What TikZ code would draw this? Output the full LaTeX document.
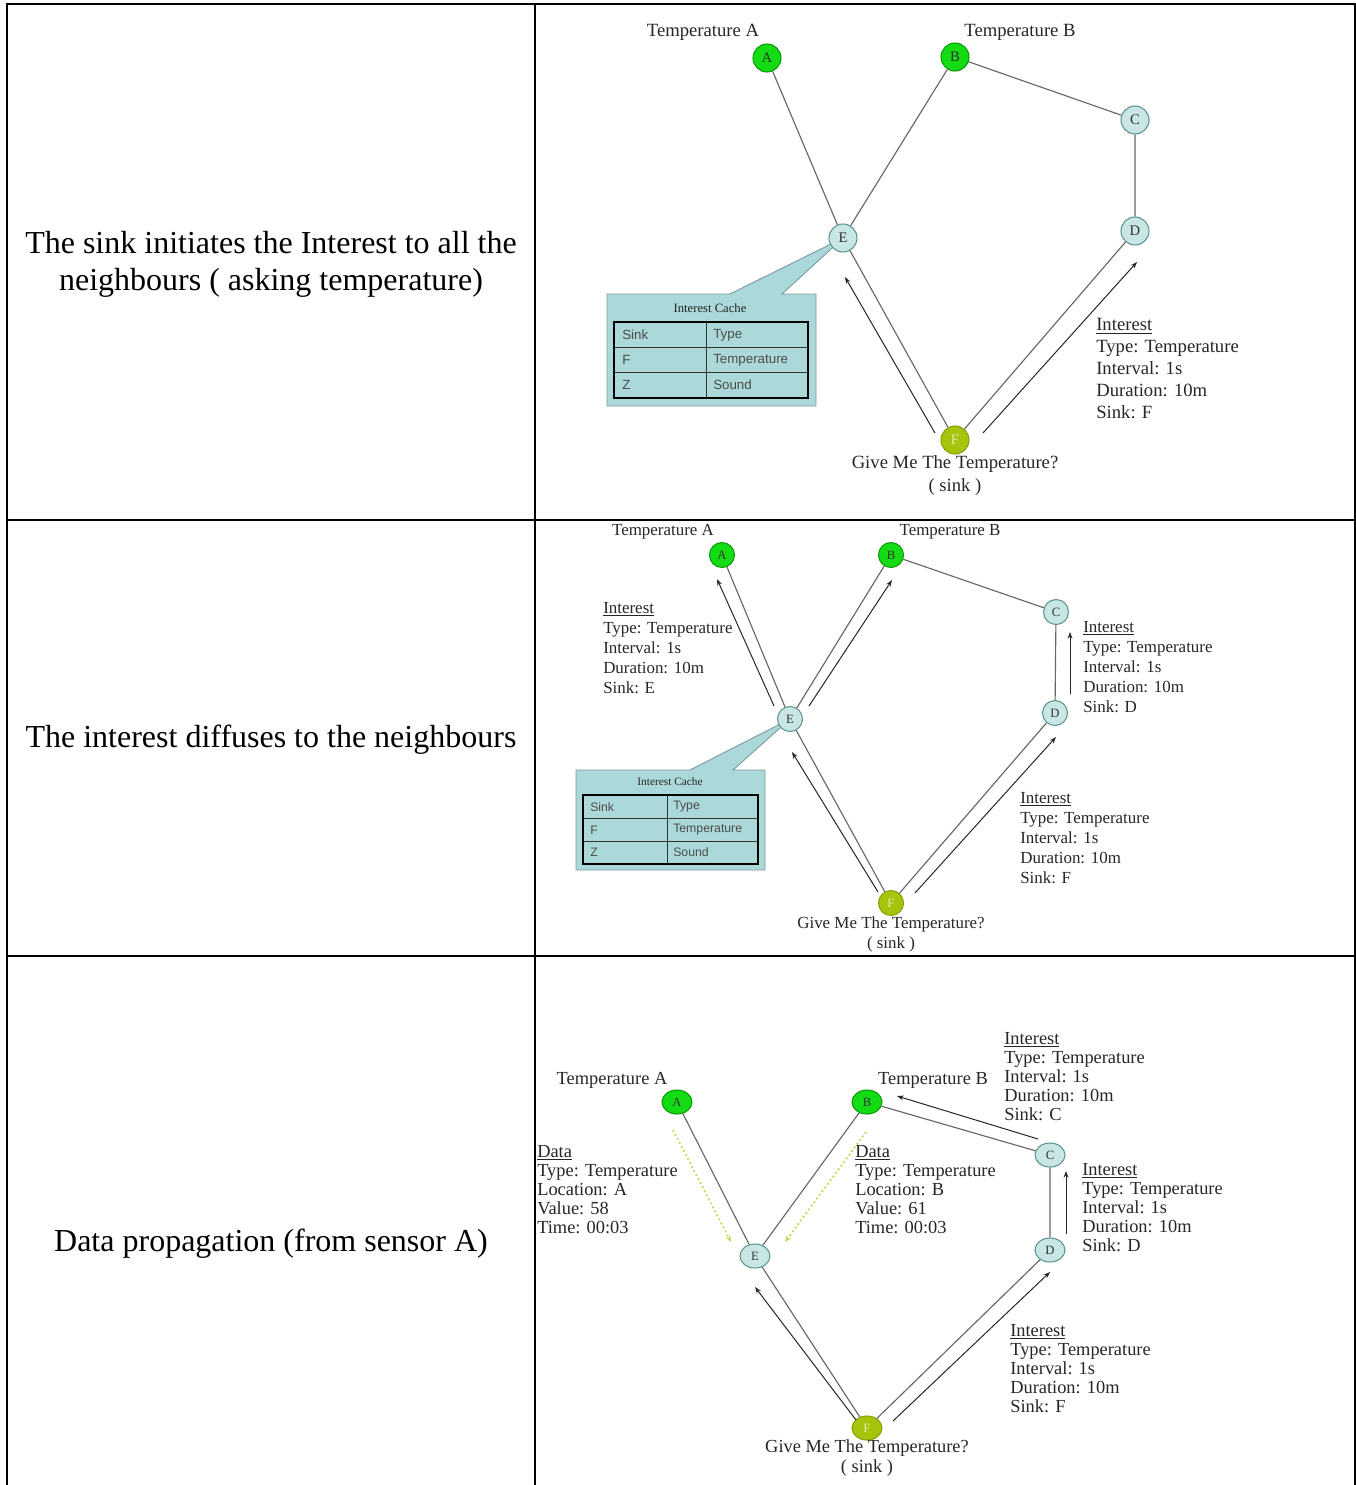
\documentclass[tikz,border=0pt]{standalone}
\usepackage{fontspec}
\setmainfont{Liberation Serif}
\setsansfont{Liberation Sans}
\usetikzlibrary{arrows.meta,shapes.geometric}
\pgfdeclarelayer{background}
\pgfsetlayers{background,main}

\definecolor{sensorgreen}{HTML}{14DC14}
\definecolor{sensorrim}{HTML}{0A9A0A}
\definecolor{relayfill}{HTML}{C8E6E4}
\definecolor{relayrim}{HTML}{5E9490}
\definecolor{sinkfill}{HTML}{A6C40C}
\definecolor{sinkrim}{HTML}{86A000}
\definecolor{edgegray}{HTML}{666666}
\definecolor{cachefill}{HTML}{ABD8D8}
\definecolor{cacherim}{HTML}{7A9E9E}
\definecolor{datagreen}{HTML}{C4DC5A}

\tikzset{
  frame/.style={line width=1.5pt, black},
  caption/.style={align=center, inner sep=0pt, font=\fontsize{24}{27.75}\selectfont},
  nd/.style={ellipse, inner sep=0pt, line width=0.8pt},
  sensor/.style={nd, draw=sensorrim, fill=sensorgreen, text=black!80},
  relay/.style={nd, draw=relayrim, fill=relayfill, text=black!80},
  sinknode/.style={nd, draw=sinkrim, fill=sinkfill, text=white!70!sinkfill},
  rowone/.style={minimum width=21pt, minimum height=21pt, font=\fontsize{11}{11}\selectfont},
  rowtwo/.style={minimum width=18.75pt, minimum height=18.75pt, font=\fontsize{9.5}{9.5}\selectfont},
  rowthree/.style={minimum width=22.5pt, minimum height=18pt, font=\fontsize{9.5}{9.5}\selectfont},
  fone/.style={font=\fontsize{14}{16.5}\selectfont},
  ftwo/.style={font=\fontsize{12.7}{15}\selectfont},
  fthree/.style={font=\fontsize{13.8}{14.25}\selectfont},
  edge/.style={draw=edgegray, line width=0.85pt},
  msg/.style={draw=black!85, line width=0.75pt, -{Stealth[length=5pt,width=3.6pt]}},
  datamsg/.style={draw=datagreen, line width=1.4pt, dotted, -{Stealth[length=5pt,width=4pt]}},
  info/.style={anchor=north west, inner sep=0pt, align=left, text=black!85},
  tag/.style={inner sep=0pt, text=black!85},
  cachebox/.style={fill=cachefill, draw=cacherim, line width=0.7pt},
  celltbl/.style={draw=black, line width=1.8pt},
  cellrule/.style={draw=black!80, line width=0.6pt},
  cell/.style={anchor=west, inner sep=0pt, text=black!70},
}

\begin{document}
\begin{tikzpicture}[x=0.75pt, y=-0.75pt]
\useasboundingbox (0,0) rectangle (1356,1485);

% ---------- left column captions ----------
\node[caption] (cap1) at (271,264) {The sink initiates the Interest to all the\\neighbours ( asking temperature)};
\node[caption] (cap2) at (271,740) {The interest diffuses to the neighbours};
\node[caption] (cap3) at (271,1244) {Data propagation (from sensor A)};

% ---------- stage 1: the sink sends its interest ----------
\node[sensor,rowone] (A1) at (767,58) {A};
\node[sensor,rowone] (B1) at (955,57) {B};
\node[relay,rowone] (C1) at (1135,120) {C};
\node[relay,rowone] (D1) at (1135,231) {D};
\node[relay,rowone] (E1) at (843,238) {E};
\node[sinknode,rowone] (F1) at (955,440) {F};

\node[tag,fone] (tA1) at (703,32) {Temperature A};
\node[tag,fone] (tB1) at (1020,32) {Temperature B};
\node[tag,fone] (sk1) at (955,464) {Give Me The Temperature?};
\node[tag,fone] (sk1b) at (955,487) {( sink )};

\draw[edge] (A1) -- (E1) (B1) -- (E1) (B1) -- (C1) (C1) -- (D1) (E1) -- (F1) (D1) -- (F1);

\coordinate (m1a) at (935,433); \coordinate (m1b) at (845,277);
\coordinate (m1c) at (983,433); \coordinate (m1d) at (1137,262);
\draw[msg] (m1a) -- (m1b);
\draw[msg] (m1c) -- (m1d);

\node[info,fone] (i1) at (1096,318.5) {\underline{Interest}\\Type: Temperature\\Interval: 1s\\Duration: 10m\\Sink: F};

\begin{pgfonlayer}{background}
\draw[cachebox] (607,294) -- (730,294) -- (E1.center) -- (782,294) -- (816,294) -- (816,406) -- (607,406) -- cycle;
\end{pgfonlayer}
\node[tag,font=\fontsize{9.5}{9.5}\selectfont] (ct1) at (710,308) {Interest Cache};
\draw[cellrule] (706,322) -- (706,398) (614,347) -- (808,347) (614,372) -- (808,372);
\draw[celltbl] (614,322) rectangle (808,398);
\begin{scope}[every node/.style={cell, font=\sffamily\fontsize{10}{10}\selectfont}]
\node (c1a) at (622,335) {Sink};
\node (c1b) at (713,335) {Type};
\node (c1c) at (622,360) {F};
\node (c1d) at (713,360) {Temperature};
\node (c1e) at (622,385) {Z};
\node (c1f) at (713,385) {Sound};
\end{scope}

% ---------- stage 2: the interest spreads ----------
\node[sensor,rowtwo] (A2) at (722,555) {A};
\node[sensor,rowtwo] (B2) at (891,555) {B};
\node[relay,rowtwo] (C2) at (1056,612) {C};
\node[relay,rowtwo] (D2) at (1055,713) {D};
\node[relay,rowtwo] (E2) at (790,719) {E};
\node[sinknode,rowtwo] (F2) at (891,903) {F};

\node[tag,ftwo] (tA2) at (663,532) {Temperature A};
\node[tag,ftwo] (tB2) at (950,532) {Temperature B};
\node[tag,ftwo] (sk2) at (891,924) {Give Me The Temperature?};
\node[tag,ftwo] (sk2b) at (891,944) {( sink )};

\draw[edge] (A2) -- (E2) (B2) -- (E2) (B2) -- (C2) (C2) -- (D2) (E2) -- (F2) (D2) -- (F2);

\coordinate (m2a) at (774,706); \coordinate (m2b) at (717,579);
\coordinate (m2c) at (809,706); \coordinate (m2d) at (892,580);
\coordinate (m2e) at (878,892); \coordinate (m2f) at (792,752);
\coordinate (m2g) at (915,893); \coordinate (m2h) at (1056,737);
\coordinate (m2i) at (1070,694); \coordinate (m2j) at (1070,632);
\draw[msg] (m2a) -- (m2b);
\draw[msg] (m2c) -- (m2d);
\draw[msg] (m2e) -- (m2f);
\draw[msg] (m2g) -- (m2h);
\draw[msg] (m2i) -- (m2j);

\node[info,ftwo] (i2a) at (603,602) {\underline{Interest}\\Type: Temperature\\Interval: 1s\\Duration: 10m\\Sink: E};
\node[info,ftwo] (i2b) at (1083,621) {\underline{Interest}\\Type: Temperature\\Interval: 1s\\Duration: 10m\\Sink: D};
\node[info,ftwo] (i2c) at (1020,792) {\underline{Interest}\\Type: Temperature\\Interval: 1s\\Duration: 10m\\Sink: F};

\begin{pgfonlayer}{background}
\draw[cachebox] (576,770) -- (690,770) -- (E2.center) -- (733,770) -- (765,770) -- (765,870) -- (576,870) -- cycle;
\end{pgfonlayer}
\node[tag,font=\fontsize{8.5}{8.5}\selectfont] (ct2) at (670,782) {Interest Cache};
\draw[cellrule] (667,795) -- (667,864) (583,818) -- (758,818) (583,841) -- (758,841);
\draw[celltbl] (583,795) rectangle (758,864);
\begin{scope}[every node/.style={cell, font=\sffamily\fontsize{9.2}{9.2}\selectfont}]
\node (c2a) at (590,807) {Sink};
\node (c2b) at (673,807) {Type};
\node (c2c) at (590,830) {F};
\node (c2d) at (673,830) {Temperature};
\node (c2e) at (590,852) {Z};
\node (c2f) at (673,852) {Sound};
\end{scope}

% ---------- stage 3: sensor data flows back ----------
\node[sensor,rowthree] (A3) at (677,1102) {A};
\node[sensor,rowthree] (B3) at (867,1102) {B};
\node[relay,rowthree] (C3) at (1050,1155) {C};
\node[relay,rowthree] (D3) at (1050,1250) {D};
\node[relay,rowthree] (E3) at (755,1256) {E};
\node[sinknode,rowthree] (F3) at (867,1428) {F};

\node[tag,fthree] (tA3) at (612,1080) {Temperature A};
\node[tag,fthree] (tB3) at (933,1080) {Temperature B};
\node[tag,fthree] (sk3) at (867,1448) {Give Me The Temperature?};
\node[tag,fthree] (sk3b) at (867,1468) {( sink )};

\draw[edge] (A3) -- (E3) (B3) -- (E3) (B3) -- (C3) (C3) -- (D3) (E3) -- (F3) (D3) -- (F3);

\coordinate (m3a) at (1038,1139); \coordinate (m3b) at (897,1096);
\coordinate (m3c) at (1066,1234); \coordinate (m3d) at (1066,1171);
\coordinate (m3e) at (856,1420); \coordinate (m3f) at (755,1287);
\coordinate (m3g) at (893,1421); \coordinate (m3h) at (1050,1272);
\draw[msg] (m3a) -- (m3b);
\draw[msg] (m3c) -- (m3d);
\draw[msg] (m3e) -- (m3f);
\draw[msg] (m3g) -- (m3h);

\coordinate (d3a) at (673,1130); \coordinate (d3b) at (731,1242);
\coordinate (d3c) at (866,1132); \coordinate (d3d) at (785,1242);
\draw[datamsg] (d3a) -- (d3b);
\draw[datamsg] (d3c) -- (d3d);

\node[info,fthree] (i3a) at (537,1145) {\underline{Data}\\Type: Temperature\\Location: A\\Value: 58\\Time: 00:03};
\node[info,fthree] (i3b) at (855,1145) {\underline{Data}\\Type: Temperature\\Location: B\\Value: 61\\Time: 00:03};
\node[info,fthree] (i3c) at (1004,1032) {\underline{Interest}\\Type: Temperature\\Interval: 1s\\Duration: 10m\\Sink: C};
\node[info,fthree] (i3d) at (1082,1163) {\underline{Interest}\\Type: Temperature\\Interval: 1s\\Duration: 10m\\Sink: D};
\node[info,fthree] (i3e) at (1010,1324) {\underline{Interest}\\Type: Temperature\\Interval: 1s\\Duration: 10m\\Sink: F};

% ---------- table rules ----------
\draw[frame] (7,1485) -- (7,3.5) -- (1355,3.5) -- (1355,1485);
\draw[frame] (535,3.5) -- (535,1485);
\draw[frame] (7,520) -- (1355,520) (7,956) -- (1355,956);
\end{tikzpicture}
\end{document}
